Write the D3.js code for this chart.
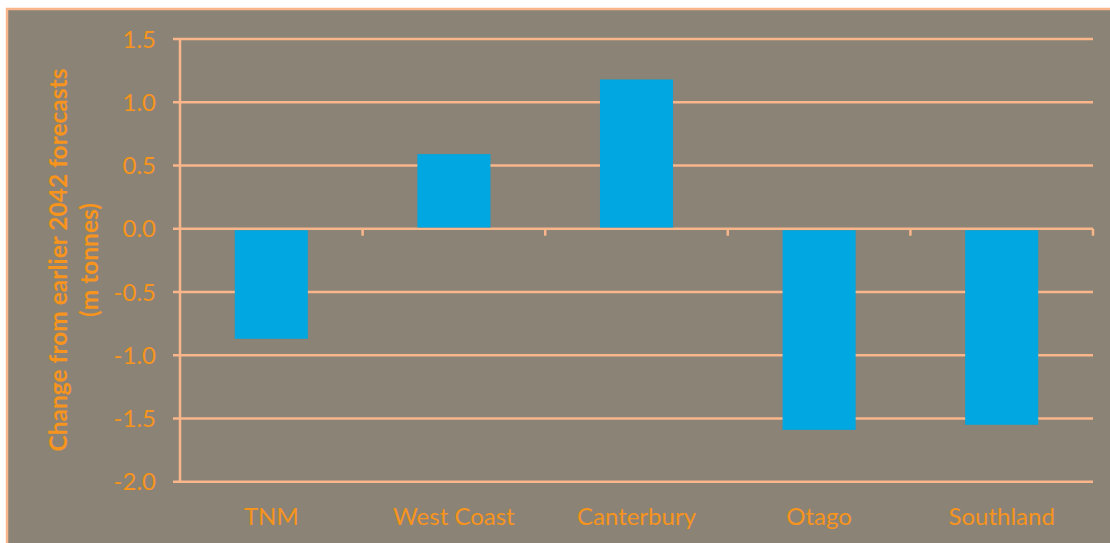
<!DOCTYPE html>
<html>
<head>
<meta charset="utf-8">
<script src="https://cdn.jsdelivr.net/npm/d3@7"></script>
<style>
  html, body { margin: 0; padding: 0; background: #ffffff; }
  svg { display: block; }
</style>
</head>
<body>
<div id="chart"></div>
<script>
const categories = ["TNM", "West Coast", "Canterbury", "Otago", "Southland"];
const values = [-0.87, 0.59, 1.18, -1.59, -1.55];
const yTicks = [1.5, 1.0, 0.5, 0.0, -0.5, -1.0, -1.5, -2.0];
const yTitleLines = ["Change from earlier 2042 forecasts", "(m tonnes)"];

const W = 1110, H = 543;
const bg = "#8A8376", line = "#F9B68A", text = "#F7941D", bar = "#00A7E0";
const fontFamily = "Lato, 'Open Sans', sans-serif";

const svg = d3.select("#chart").append("svg").attr("width", W).attr("height", H);

svg.append("rect").attr("x", 7).attr("y", 9).attr("width", W).attr("height", H)
  .attr("fill", bg).attr("stroke", line).attr("stroke-width", 2.5);

const m = { left: 180, right: 1093, top: 39, bottom: 481.7 };

const x = d3.scaleBand().domain(categories).range([m.left, m.right])
  .paddingInner(0.6).paddingOuter(0.3);
const y = d3.scaleLinear().domain([-2, 1.5]).range([m.bottom, m.top]);

// gridlines
svg.append("g").selectAll("line").data(yTicks).join("line")
  .attr("x1", m.left - 7).attr("x2", m.right)
  .attr("y1", d => y(d)).attr("y2", d => y(d))
  .attr("stroke", line).attr("stroke-width", 2.5);

// y axis line
svg.append("line").attr("x1", m.left).attr("x2", m.left)
  .attr("y1", m.top).attr("y2", m.bottom)
  .attr("stroke", line).attr("stroke-width", 2.5);

// category ticks on zero line
const step = x.step();
svg.append("g").selectAll("line").data(d3.range(1, categories.length + 1)).join("line")
  .attr("x1", i => m.left + i * step).attr("x2", i => m.left + i * step)
  .attr("y1", y(0)).attr("y2", y(0) + 7)
  .attr("stroke", line).attr("stroke-width", 2.5);

// bars
svg.append("g").selectAll("rect").data(values).join("rect")
  .attr("x", (d, i) => x(categories[i]))
  .attr("width", x.bandwidth())
  .attr("y", d => y(Math.max(0, d)) + (d < 0 ? 1.5 : 0))
  .attr("height", d => Math.abs(y(d) - y(0)) - (d < 0 ? 1.5 : 1.2))
  .attr("fill", bar);

// y tick labels
svg.append("g").selectAll("text").data(yTicks).join("text")
  .attr("x", 156).attr("y", d => y(d))
  .attr("dy", "0.36em")
  .attr("text-anchor", "end")
  .attr("font-family", fontFamily).attr("font-size", 24)
  .attr("fill", text)
  .text(d => d3.format(".1f")(d).replace("\u2212", "-"));

// x labels
svg.append("g").selectAll("text").data(categories).join("text")
  .attr("x", d => x(d) + x.bandwidth() / 2).attr("y", 525)
  .attr("text-anchor", "middle")
  .attr("font-family", fontFamily).attr("font-size", 24)
  .attr("fill", text)
  .text(d => d);

// y title
const tt = svg.append("text")
  .attr("transform", "translate(67,260) rotate(-90)")
  .attr("text-anchor", "middle")
  .attr("font-family", fontFamily).attr("font-size", 24.5).attr("font-weight", "bold")
  .attr("fill", text);
tt.selectAll("tspan").data(yTitleLines).join("tspan")
  .attr("x", 0).attr("dy", (d, i) => i === 0 ? 0 : 31)
  .text(d => d);
</script>
</body>
</html>
